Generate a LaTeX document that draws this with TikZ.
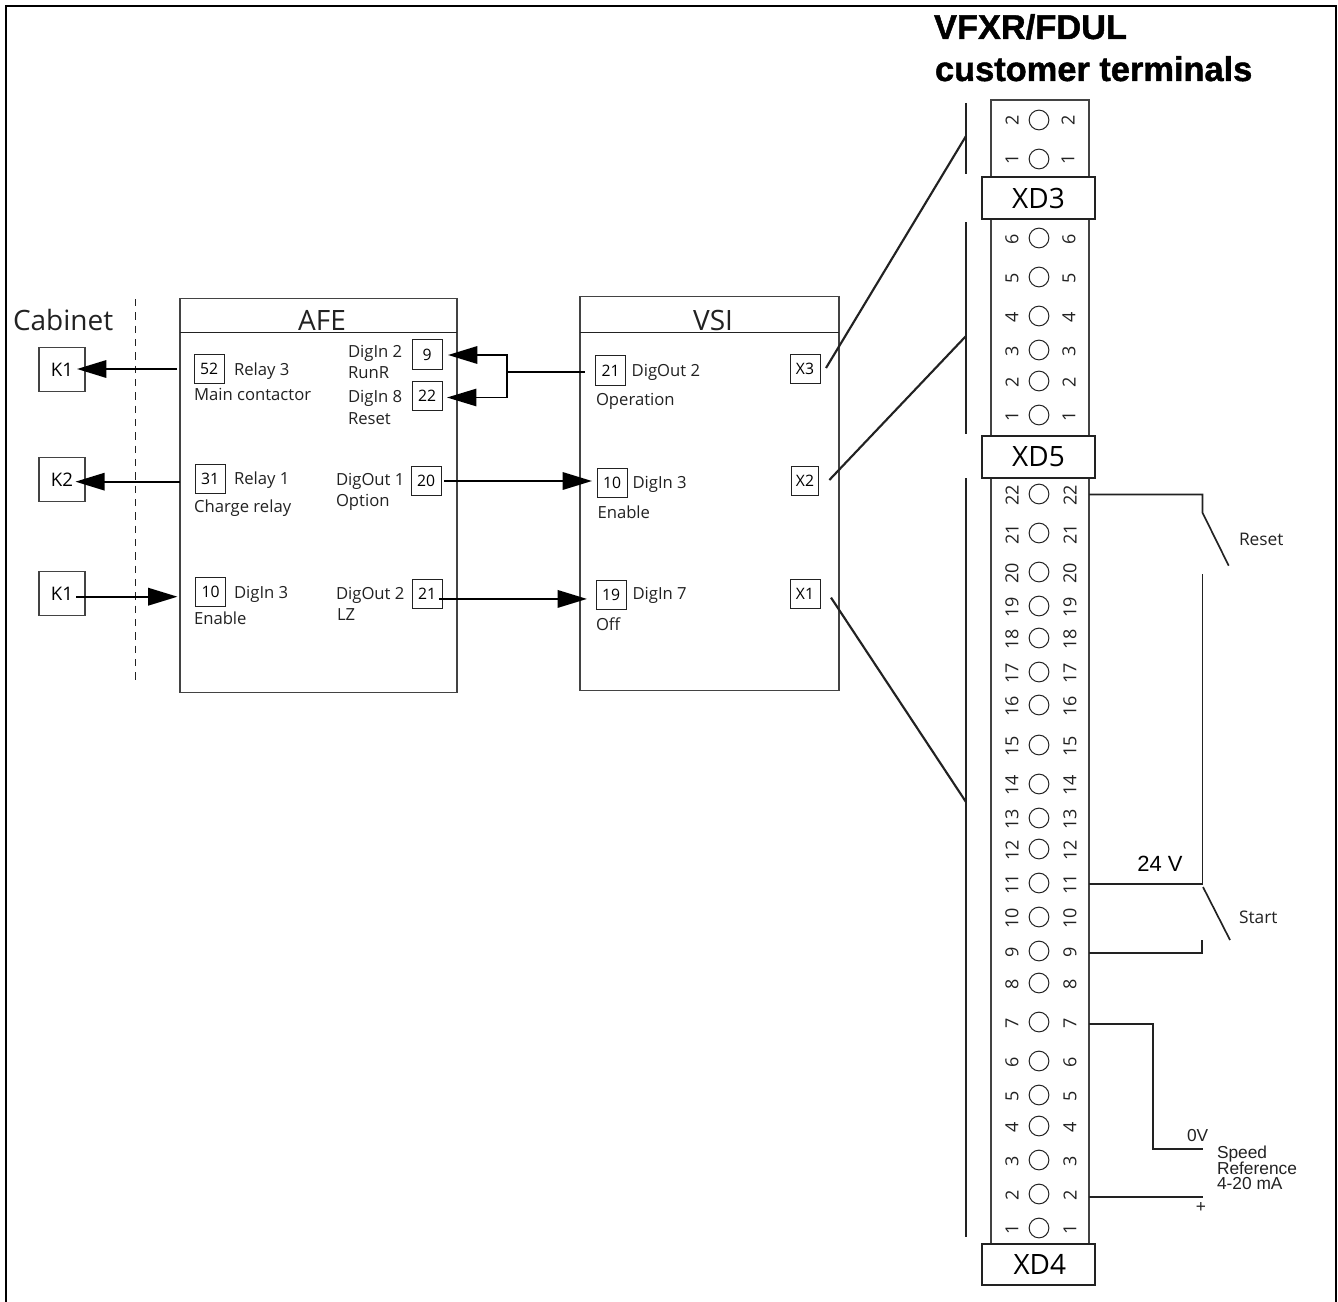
\documentclass[tikz,border=0pt]{standalone}
\usepackage{fontspec}
\setmainfont{Open Sans}
\newfontfamily\helv{Liberation Sans}
\newfontfamily\titlef[BoldFeatures={FakeBold=1.3}]{Liberation Sans}
\usetikzlibrary{arrows.meta}
\definecolor{ink}{HTML}{222222}
\newcommand{\fsz}[1]{\fontsize{#1}{#1}\selectfont}
\tikzset{
  x=0.75pt,y=-0.75pt,
  frameline/.style={line width=1.9pt,black},
  panel/.style={draw=ink!85,line width=0.95pt,inner sep=0pt,outer sep=0pt,fill=white},
  pin/.style={draw=ink,line width=0.75pt,inner sep=0pt,outer sep=0pt,minimum width=22.5pt,minimum height=22pt,font=\fsz{11.8}},
  relay/.style={draw=ink!85,line width=0.9pt,inner sep=0pt,outer sep=0pt,minimum width=34.5pt,minimum height=32.5pt,font=\fsz{14}},
  xdbox/.style={draw=ink,line width=1.7pt,fill=white,inner sep=0pt,outer sep=0pt,minimum width=84.5pt,minimum height=31pt,font=\fsz{21}},
  lbl/.style={anchor=base west,inner sep=0pt,outer sep=0pt,font=\fsz{12.5},text=ink},
  big/.style={anchor=base,inner sep=0pt,outer sep=0pt,font=\fsz{21},text=ink},
  tcirc/.style={circle,draw=ink,line width=0.75pt,inner sep=0pt,outer sep=0pt,minimum size=14.8pt},
  tnum/.style={rotate=90,inner sep=0pt,outer sep=0pt,font=\fsz{13.5},text=ink},
  conn/.style={line width=1.7pt,black},
  arr/.style={conn,-{Triangle[length=22pt,width=13pt]}},
  wire/.style={line width=1.25pt,ink},
  bar/.style={line width=1.9pt,ink},
  diag/.style={line width=1.6pt,ink},
  side/.style={anchor=base west,inner sep=0pt,outer sep=0pt,font=\helv\fsz{13},text=ink},
  titletext/.style={anchor=base west,inner sep=0pt,outer sep=0pt,font=\titlef\bfseries\fsz{25.8},text=black},
}
\begin{document}
\begin{tikzpicture}
\useasboundingbox (0,0) rectangle (1338,1302);
% frame
\coordinate (fbl) at (6,1302); \coordinate (ftl) at (6,6);
\coordinate (ftr) at (1336,6); \coordinate (fbr) at (1336,1302);
\draw[frameline] (fbl) -- (ftl) -- (ftr) -- (fbr);
% title
\node[titletext] (t1) at (934,39) {VFXR/FDUL};
\node[titletext] (t2) at (935,81) {customer terminals};
% cabinet
\node[big,anchor=base west] (cab) at (13,330) {Cabinet};
\coordinate (dashA) at (135.5,299); \coordinate (dashB) at (135.5,684);
\draw[ink,line width=0.8pt,dash pattern=on 5.5pt off 4.5pt] (dashA) -- (dashB);
\node[relay] (k1a) at (62,369.5) {K1};
\node[relay] (k2) at (62,479.5) {K2};
\node[relay] (k1b) at (62,593.5) {K1};
% AFE
\node[panel,minimum width=207.75pt,minimum height=295.5pt] (afe) at (318.5,495.5) {};
\coordinate (afeL) at (180,332.5); \coordinate (afeR) at (457,332.5);
\draw[ink,line width=0.8pt] (afeL) -- (afeR);
\node[big] (afeT) at (322,330.6) {AFE};
\node[pin] (a52) at (209,369) {52};
\node[pin] (a31) at (210,479) {31};
\node[pin] (a10) at (210.5,592) {10};
\node[pin] (a9) at (427,354.5) {9\hspace{7.5pt}};
\node[pin] (a22) at (427,396) {22};
\node[pin] (a20) at (426,481) {20};
\node[pin] (a21) at (427,594) {21};
\node[lbl] (l1) at (234,375.7) {Relay 3};
\node[lbl] (l2) at (194,400.7) {Main contactor};
\node[lbl] (l3) at (348,357.7) {DigIn 2};
\node[lbl] (l4) at (348,378.7) {RunR};
\node[lbl] (l5) at (348,402.7) {DigIn 8};
\node[lbl] (l6) at (348,424) {Reset};
\node[lbl] (l7) at (234,484) {Relay 1};
\node[lbl] (l8) at (194,512.7) {Charge relay};
\node[lbl] (l9) at (336,485) {DigOut 1};
\node[lbl] (l10) at (336,506) {Option};
\node[lbl] (l11) at (234,598.3) {DigIn 3};
\node[lbl] (l12) at (194,624) {Enable};
\node[lbl] (l13) at (336,599.3) {DigOut 2};
\node[lbl] (l14) at (337,620.7) {LZ};
% VSI
\node[panel,minimum width=194.25pt,minimum height=295.5pt] (vsi) at (709.5,493.3) {};
\coordinate (vsiL) at (580,332.5); \coordinate (vsiR) at (839,332.5);
\draw[ink,line width=0.8pt] (vsiL) -- (vsiR);
\node[big] (vsiT) at (713,330) {VSI};
\node[pin] (v21) at (610.5,370.5) {21};
\node[pin] (v10) at (612,483) {10};
\node[pin] (v19) at (611,595) {19};
\node[pin] (x3) at (805,369) {X3};
\node[pin,minimum width=20.5pt] (x2) at (805,481) {X2};
\node[pin] (x1) at (805,594) {X1};
\node[lbl] (m1) at (631.7,376) {DigOut 2};
\node[lbl] (m2) at (596,405) {Operation};
\node[lbl] (m3) at (632.5,488) {DigIn 3};
\node[lbl] (m4) at (597.5,518.7) {Enable};
\node[lbl] (m5) at (632.5,599) {DigIn 7};
\node[lbl] (m6) at (596,630) {Off};
% arrows
\draw[arr] ([xshift=-12.75pt]a52.west) -- ([xshift=-6pt]a52.west -| k1a.east);
\draw[arr] ([yshift=-2pt]a31.west -| afe.west) -- ([xshift=-7.2pt,yshift=-2pt]a31.west -| k2.east);
\draw[arr] ([xshift=-6.75pt,yshift=-2.4pt]k1b.east) -- ([xshift=-13.5pt,yshift=-2.4pt]k1b.east -| a10.west);
\coordinate (junc) at (507,371.7);
\coordinate (juncT) at (507,355); \coordinate (juncB) at (507,397.5);
\draw[conn] ([xshift=-8.25pt]v21.west |- junc) -- (junc);
\draw[arr,line join=miter] (juncB) -- (juncT) -- ([xshift=4.5pt]a9.east |- juncT);
\draw[arr,line width=1.1pt] ([xshift=0.5pt]juncB) -- ([xshift=3.75pt]a22.east |- juncB);
\draw[arr] ([xshift=2.6pt]a20.east) -- ([xshift=-3.75pt]a20.east -| v10.west);
\draw[arr] ([xshift=-2.2pt,yshift=-3.7pt]a21.east) -- ([xshift=-6.75pt,yshift=-3.7pt]a21.east -| v19.west);
% terminal strip
\node[panel,minimum width=73.5pt,minimum height=858pt] (strip) at (1040,672) {};
\foreach \n/\y in {2/120,1/159}{
  \node[tcirc] (xdc\n) at (1039,\y) {};
  \node[tnum] (xdl\n) at (1012,\y) {\n};
  \node[tnum] (xdr\n) at (1068,\y) {\n};
}
\foreach \n/\y in {6/238,5/277,4/316,3/350,2/381,1/415}{
  \node[tcirc] (xec\n) at (1039,\y) {};
  \node[tnum] (xel\n) at (1012,\y+1) {\n};
  \node[tnum] (xer\n) at (1069,\y+1) {\n};
}
\foreach \n/\y in {22/494,21/533,20/572,19/606,18/638,17/672,16/705,15/745,14/784,13/818,12/849,11/883,10/917,9/951,8/983,7/1022,6/1061,5/1095,4/1126,3/1160,2/1194,1/1228}{
  \node[tcirc] (xfc\n) at (1039,\y) {};
  \node[tnum] (xfl\n) at (1012,\y+1) {\n};
  \node[tnum] (xfr\n) at (1070,\y+1) {\n};
}
\node[xdbox] (xd3) at (1038.5,198) {XD3};
\node[xdbox] (xd5) at (1038.5,457) {XD5};
\node[xdbox] (xd4) at (1038.5,1264.5) {\hspace{2pt}XD4};
% bars
\coordinate (b1a) at (966,103); \coordinate (b1b) at (966,174);
\coordinate (b2a) at (966,222); \coordinate (b2b) at (966,434);
\coordinate (b3a) at (966,478); \coordinate (b3b) at (966,1237);
\draw[bar] (b1a) -- (b1b);
\draw[bar] (b2a) -- (b2b);
\draw[bar] (b3a) -- (b3b);
\coordinate (h3) at (966,136); \coordinate (h2) at (966,336); \coordinate (h1) at (966,802);
\draw[diag] ([xshift=4.5pt,yshift=0.75pt]x3.east) -- (h3);
\draw[diag] ([xshift=8pt,yshift=0.75pt]x2.east) -- (h2);
\draw[diag] ([xshift=8.25pt,yshift=-2.7pt]x1.east) -- (h1);
% wiring
\coordinate (w22) at (1202.5,494.5); \coordinate (w22b) at (1202.5,512.7); \coordinate (sw1) at (1228.7,565.7);
\draw[wire] (strip.east |- w22) -- (w22) -- (w22b) -- (sw1);
\coordinate (w11t) at (1202.5,574); \coordinate (w11) at (1202.5,884);
\draw[wire] (w11t) -- (w11) -- (strip.east |- w11);
\coordinate (sw2a) at (1203,887); \coordinate (sw2b) at (1230,940);
\draw[wire] (sw2a) -- (sw2b);
\coordinate (w9) at (1201.7,952.7); \coordinate (w9t) at (1201.7,940);
\draw[wire] (strip.east |- w9) -- (w9) -- (w9t);
\coordinate (w7) at (1153,1023.7); \coordinate (w7b) at (1153,1149); \coordinate (w0) at (1203,1149);
\draw[wire] (strip.east |- w7) -- (w7) -- (w7b) -- (w0);
\coordinate (w2) at (1203,1197);
\draw[wire] (strip.east |- w2) -- (w2);
% side labels
\node[lbl,anchor=base,font=\helv\fsz{16.5},text=black] (v24) at (1160,871) {24 V};
\node[lbl,font=\fsz{13}] (reset) at (1239,545.5) {Reset};
\node[lbl,font=\fsz{13}] (start) at (1239,923.5) {Start};
\node[side] (zv) at (1187,1141) {0V};
\node[side] (s1) at (1217,1158) {Speed};
\node[side] (s2) at (1217,1174) {Reference};
\node[side] (s3) at (1217,1189) {4-20 mA};
\node[side,anchor=center] (plus) at (1201,1207.7) {+};
\end{tikzpicture}
\end{document}
